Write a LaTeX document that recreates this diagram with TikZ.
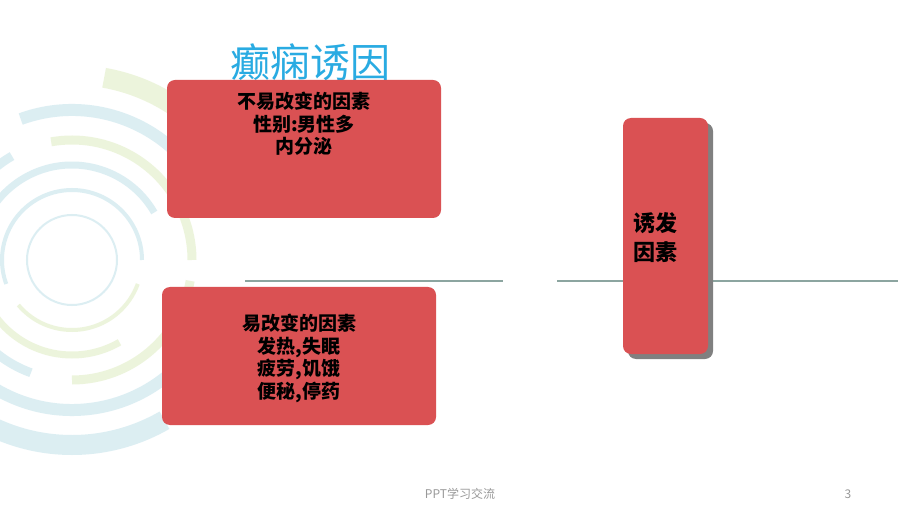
\documentclass[tikz,border=0pt]{standalone}
\usepackage{fontspec}
\setmainfont{Noto Sans CJK SC}
\usetikzlibrary{positioning,shadows}
\definecolor{boxred}{RGB}{218,81,83}
\definecolor{titleblue}{RGB}{41,171,226}
\definecolor{ringteal}{RGB}{140,200,215}
\definecolor{ringgreen}{RGB}{195,220,140}
\definecolor{rulegray}{RGB}{140,165,160}
\begin{document}
\begin{tikzpicture}[x=1pt,y=-1pt,
  redbox/.style={fill=boxred,rounded corners=8pt,inner sep=0,minimum width=274pt,minimum height=138pt},
  boxtext/.style={font=\fontsize{19}{22.7}\selectfont\bfseries,align=center,inner sep=0},
  foot/.style={font=\fontsize{12}{12}\selectfont,text=black!40}]
\useasboundingbox[fill=white] (0,0) rectangle (920,518);
% faint rings on the left
\begin{scope}[shift={(72,260)},opacity=.3]
\foreach \r/\w/\a/\b/\c in {185/20/40/80/ringgreen, 185/20/200/300/ringteal,
  150/12/20/110/ringteal, 150/12/130/170/ringgreen, 150/12/190/330/ringteal,
  120/9/0/100/ringgreen, 120/9/120/250/ringteal, 120/9/270/350/ringgreen,
  95/7/30/160/ringteal, 95/7/180/300/ringgreen, 70/4/0/200/ringteal,
  70/4/220/340/ringgreen, 45/2/0/360/ringteal}
  \draw[\c,line width=\w pt] (\a:\r pt) arc (\a:\b:\r pt);
\end{scope}
% rules
\draw[rulegray,line width=1.5pt] (245,281)--(503,281) (557,281)--(898,281);
\node[font=\fontsize{40}{40}\selectfont,text=titleblue] (title) at (310,62) {癫痫诱因};
\node[redbox] (fixed) at (304,149) {};
\node[boxtext,below=12pt of fixed.north] (fixedtxt) {不易改变的因素\\性别:男性多\\内分泌};
\node[redbox] (changeable) at (299,356) {};
\node[boxtext,below=27pt of changeable.north] (changeabletxt) {易改变的因素\\发热,失眠\\疲劳,饥饿\\便秘,停药};
\node[redbox,minimum width=85pt,minimum height=236pt,
  drop shadow={shadow xshift=5pt,shadow yshift=-5pt,fill=black!50,opacity=1}] (trigger) at (665.5,236) {};
\node[boxtext,font=\fontsize{22}{29}\selectfont\bfseries,align=left,right=10pt of trigger.west,yshift=-2pt] (triggertxt) {诱发\\因素};
\node[foot] (footer) at (460,494) {PPT学习交流};
\node[foot] (page) at (848,494) {3};
\end{tikzpicture}
\end{document}
